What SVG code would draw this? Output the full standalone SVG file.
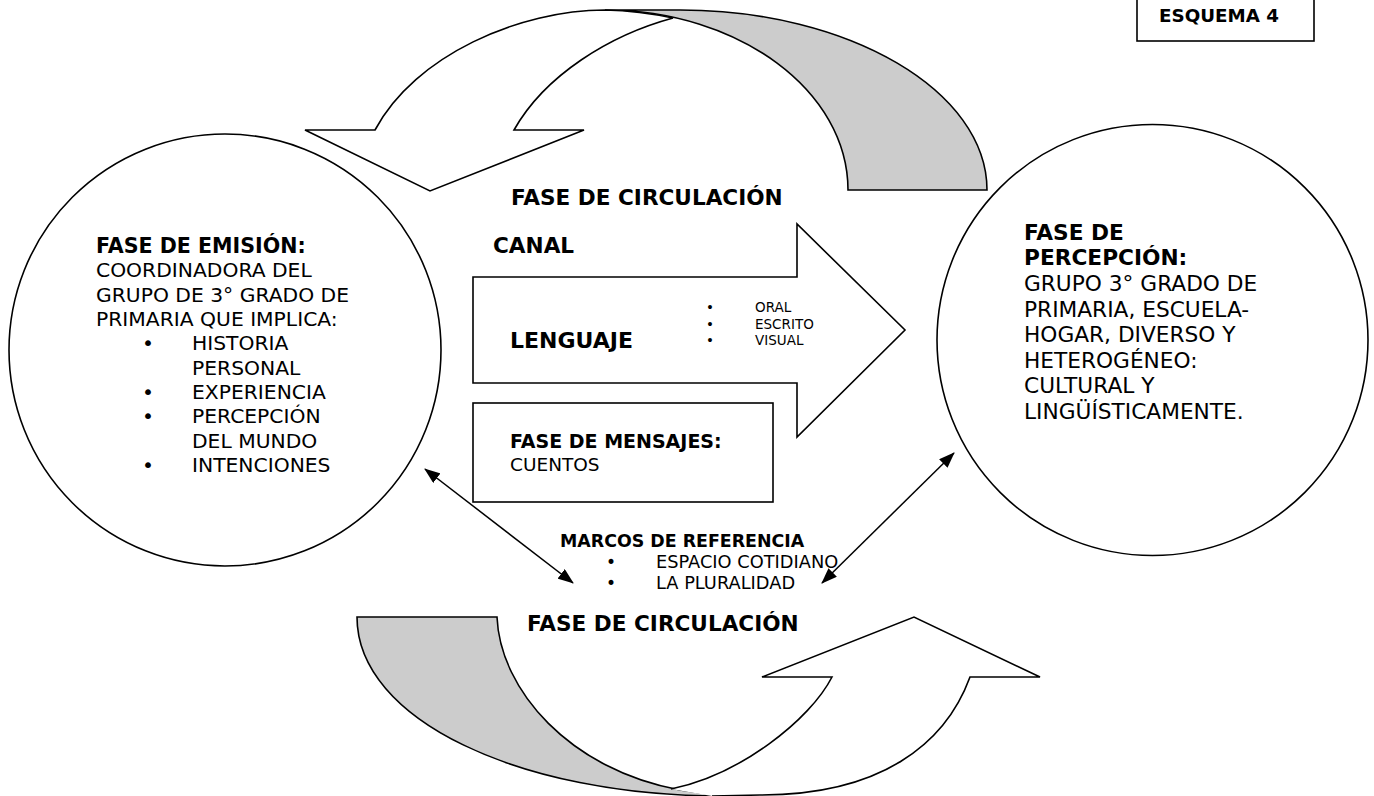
<svg xmlns="http://www.w3.org/2000/svg" width="1374" height="796" viewBox="0 0 1374 796">
<style>
.sh{fill:#fff;stroke:#000;stroke-width:1.6;stroke-linejoin:miter}
.gr{fill:#cccccc;stroke:#000;stroke-width:1.6}
.fo{fill:#fff;stroke:none}
.so{fill:none;stroke:#000;stroke-width:1.6}
text{font-family:"DejaVu Sans","Liberation Sans",sans-serif;fill:#000}
.b{font-weight:bold}
.t20{font-size:20.3px}
.t21{font-size:21.7px}
.con{stroke:#000;stroke-width:1.5;fill:none;marker-start:url(#ah);marker-end:url(#ah)}
</style>
<defs>
<marker id="ah" viewBox="0 0 16 12" refX="15" refY="6" markerWidth="16" markerHeight="12" markerUnits="userSpaceOnUse" orient="auto-start-reverse">
<path d="M0,0 L16,6 L0,12 Z" fill="#000"/>
</marker>
</defs>
<rect width="1374" height="796" fill="#fff"/>

<g id="esquema">
<rect x="1137" y="-2" width="177" height="43" fill="#fff" stroke="#000" stroke-width="1.6"/>
<text x="1159" y="22" class="b" font-size="18.3">ESQUEMA 4</text>
</g>

<g id="top-arrow">
<path class="gr" d="M605,10 L680,10 C849,10 987,91 987,190 L848,190 C848,91 739,10 605,10 Z"/>
<path class="sh" d="M305,130 L375,130 C415,55 520,10 605,10 Q640,11 673,18 C610,35 545,75 514,130 L584,130 L430,191 Z"/>
</g>

<g id="bottom-arrow">
<path class="gr" d="M357,617 L497,617 C500,690 570,770 680,790 L722,796 C520,796 357,720 357,617 Z"/>
<path class="fo" d="M671,789 C740,775 810,720 832,677 L762,677 L914,617 L1040,677 L970,677 C945,745 880,795 760,795 L712,796 Z"/>
<path class="so" d="M671,789 C740,775 810,720 832,677 L762,677 L914,617 L1040,677 L970,677 C945,745 880,795 760,795 L712,796"/>
</g>

<g id="emision">
<ellipse class="sh" cx="225" cy="350" rx="216" ry="216"/>
<text class="t20"><tspan x="96" y="253" class="b" font-size="20.6">FASE DE EMISIÓN:</tspan><tspan x="96" y="277">COORDINADORA DEL</tspan><tspan x="96" y="301.5">GRUPO DE 3° GRADO DE</tspan><tspan x="96" y="326">PRIMARIA QUE IMPLICA:</tspan></text>
<text class="t20"><tspan x="192" y="350">HISTORIA</tspan><tspan x="192" y="374.5">PERSONAL</tspan><tspan x="192" y="398.5">EXPERIENCIA</tspan><tspan x="192" y="423">PERCEPCIÓN</tspan><tspan x="192" y="447.5">DEL MUNDO</tspan><tspan x="192" y="472">INTENCIONES</tspan></text>
<text class="t20" text-anchor="middle"><tspan x="148" y="350">•</tspan><tspan x="148" y="398.5">•</tspan><tspan x="148" y="423">•</tspan><tspan x="148" y="472">•</tspan></text>
</g>

<g id="percepcion">
<ellipse class="sh" cx="1152.5" cy="340" rx="215.5" ry="215.5"/>
<text class="t21"><tspan x="1024" y="239.5" class="b">FASE DE</tspan><tspan x="1024" y="264.5" class="b">PERCEPCIÓN:</tspan><tspan x="1024" y="291">GRUPO 3° GRADO DE</tspan><tspan x="1024" y="316.7">PRIMARIA, ESCUELA-</tspan><tspan x="1024" y="342.3">HOGAR, DIVERSO Y</tspan><tspan x="1024" y="367.7">HETEROGÉNEO:</tspan><tspan x="1024" y="393.3">CULTURAL Y</tspan><tspan x="1024" y="419.3">LINGÜÍSTICAMENTE.</tspan></text>
</g>

<g id="canal">
<polygon class="sh" points="473,277 797,277 797,224 905,330 797,437 797,383 473,383"/>
<text x="493" y="253" class="b" font-size="21.6">CANAL</text>
<text x="510" y="348" class="b" font-size="22">LENGUAJE</text>
<text font-size="13.5"><tspan x="755" y="312">ORAL</tspan><tspan x="755" y="329">ESCRITO</tspan><tspan x="755" y="345">VISUAL</tspan></text>
<text font-size="13.5" text-anchor="middle"><tspan x="710" y="312">•</tspan><tspan x="710" y="329">•</tspan><tspan x="710" y="345">•</tspan></text>
</g>

<g id="mensajes">
<rect class="sh" x="473" y="403" width="300" height="99"/>
<text font-size="18.5"><tspan x="510" y="448" class="b" font-size="19">FASE DE MENSAJES:</tspan><tspan x="510" y="471">CUENTOS</tspan></text>
</g>

<g id="circulacion">
<text x="511" y="205" class="b" font-size="21.6">FASE DE CIRCULACIÓN</text>
<text x="527" y="631" class="b" font-size="21.6">FASE DE CIRCULACIÓN</text>
</g>

<g id="marcos">
<text x="560" y="547" class="b" font-size="17.4">MARCOS DE REFERENCIA</text>
<text font-size="17.8"><tspan x="656" y="567.5">ESPACIO COTIDIANO</tspan><tspan x="656" y="588.5">LA PLURALIDAD</tspan></text>
<text font-size="17" text-anchor="middle"><tspan x="611" y="567.5">•</tspan><tspan x="611" y="588.5">•</tspan></text>
</g>

<g id="connectors">
<line class="con" x1="425" y1="469" x2="573" y2="583"/>
<line class="con" x1="954" y1="453" x2="822" y2="583"/>
</g>
</svg>
